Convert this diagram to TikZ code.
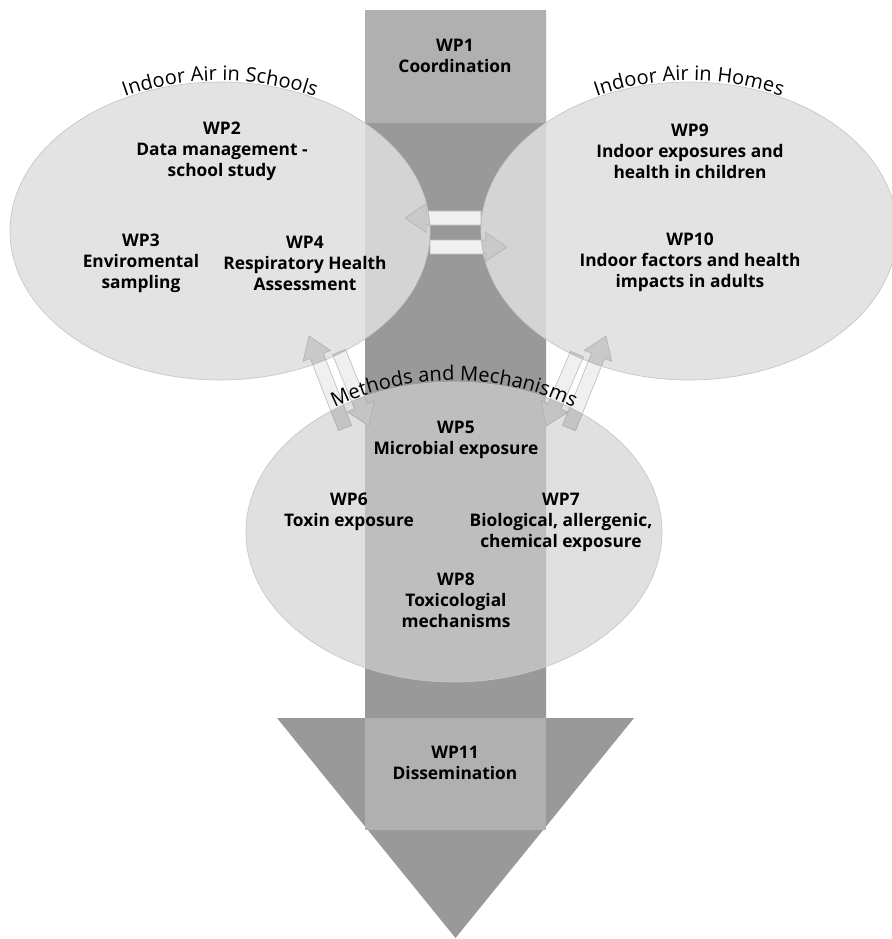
\documentclass[tikz,border=0pt]{standalone}
\usepackage{fontspec}
\setmainfont{Open Sans}
\usetikzlibrary{calc, decorations.text}

\definecolor{shaftgray}{gray}{0.6}
\definecolor{boxgray}{gray}{0.69}
\definecolor{ovalgray}{gray}{0.87}
\definecolor{mechgray}{gray}{0.82}

\newcommand\wpfont{\fontsize{13}{15.75}\selectfont\bfseries}
\newcommand\arcfont{\fontsize{15}{17}\selectfont}

% block arrow: style, tail, tip
\newcommand\blockarrow[3]{%
  \coordinate (h) at ($(#3)!16pt!(#2)$);
  \path[#1] ($(#2)!5.25pt!90:(#3)$) -- ($(h)!5.25pt!90:(#3)$) -- ($(h)!11pt!90:(#3)$) -- (#3)
    -- ($(h)!11pt!-90:(#3)$) -- ($(h)!5.25pt!-90:(#3)$) -- ($(#2)!5.25pt!-90:(#3)$) -- cycle;}
\newcommand\allarrows[1]{%
  \blockarrow{#1}{hl-tail}{hl-tip}
  \blockarrow{#1}{hr-tail}{hr-tip}
  \blockarrow{#1}{la-tail}{la-tip}
  \blockarrow{#1}{lb-tail}{lb-tip}
  \blockarrow{#1}{ra-tail}{ra-tip}
  \blockarrow{#1}{rb-tail}{rb-tip}}

\begin{document}
\begin{tikzpicture}[
        x=0.75pt, y=-0.75pt,
        wp/.style={align=center, font=\wpfont, inner sep=0pt, text=black},
        oval/.style={fill=ovalgray, fill opacity=0.86, draw=gray!45, line width=0.5pt},
        arctitle/.style={decorate, decoration={text along path, text align=center, raise=1pt, text={|\arcfont|#1}}}]

    \useasboundingbox (0,0) rectangle (892,939);

    % big arrow
    \fill[shaftgray] (365,10) -- (546,10) -- (546,718) -- (634,718) -- (455.5,938) -- (277,718) -- (365,718) -- cycle;
    \fill[boxgray] (365,10) rectangle (546,123);
    \fill[boxgray] (365,718) rectangle (546,830);

    % arrow ends
    \coordinate (hl-tail) at (481,218); \coordinate (hl-tip) at (405,218);
    \coordinate (hr-tail) at (430,247); \coordinate (hr-tip) at (507,247);
    \coordinate (la-tail) at (345,428); \coordinate (la-tip) at (309,336);
    \coordinate (lb-tail) at (339,352); \coordinate (lb-tip) at (369,426);
    \coordinate (ra-tail) at (569,428); \coordinate (ra-tip) at (606,336);
    \coordinate (rb-tail) at (577,354); \coordinate (rb-tip) at (546,426);

    \allarrows{fill=gray!12, draw=gray!50, line width=0.5pt}

    % ovals
    \path[oval] (220,231) ellipse [x radius=210, y radius=149];
    \path[oval] (689,231) ellipse [x radius=208, y radius=149];
    \path[oval, fill=mechgray, fill opacity=0.67] (454,532) ellipse [x radius=208, y radius=150];

    % arrows seen through the ovals
    \foreach \cx/\cy/\rx/\ry in {220/231/210/149, 689/231/208/149, 454/532/208/150}{
        \begin{scope}
            \clip (\cx,\cy) ellipse [x radius=\rx, y radius=\ry];
            \allarrows{fill=black, fill opacity=0.1, draw=gray!70, draw opacity=0.6, line width=0.5pt}
        \end{scope}}

    % titles
    \path[arctitle={Indoor Air in Schools}] (38.1,156.5) arc[start angle=-150, end angle=-30, x radius=210, y radius=149];
    \path[arctitle={Indoor Air in Homes}] (508.9,156.5) arc[start angle=-150, end angle=-30, x radius=208, y radius=149];
    \path[arctitle={Methods and Mechanisms}] (273.9,457) arc[start angle=-150, end angle=-30, x radius=208, y radius=150];

    % work packages
    \node[wp] (wp1) at (455,56) {WP1\\Coordination};
    \node[wp] (wp2) at (222,151) {WP2\\Data management -\\school study};
    \node[wp] (wp3) at (141,263) {WP3\\Enviromental\\sampling};
    \node[wp] (wp4) at (305,263) {WP4\\Respiratory Health\\Assessment};
    \node[wp] (wp9) at (690,151) {WP9\\Indoor exposures and\\health in children};
    \node[wp] (wp10) at (690,262) {WP10\\Indoor factors and health\\impacts in adults};
    \node[wp] (wp5) at (456,440) {WP5\\Microbial exposure};
    \node[wp] (wp6) at (349,512) {WP6\\Toxin exposure};
    \node[wp] (wp7) at (561,522) {WP7\\Biological, allergenic,\\chemical exposure};
    \node[wp] (wp8) at (456,600) {WP8\\Toxicologial\\mechanisms};
    \node[wp] (wp11) at (455,763) {WP11\\Dissemination};
\end{tikzpicture}
\end{document}
